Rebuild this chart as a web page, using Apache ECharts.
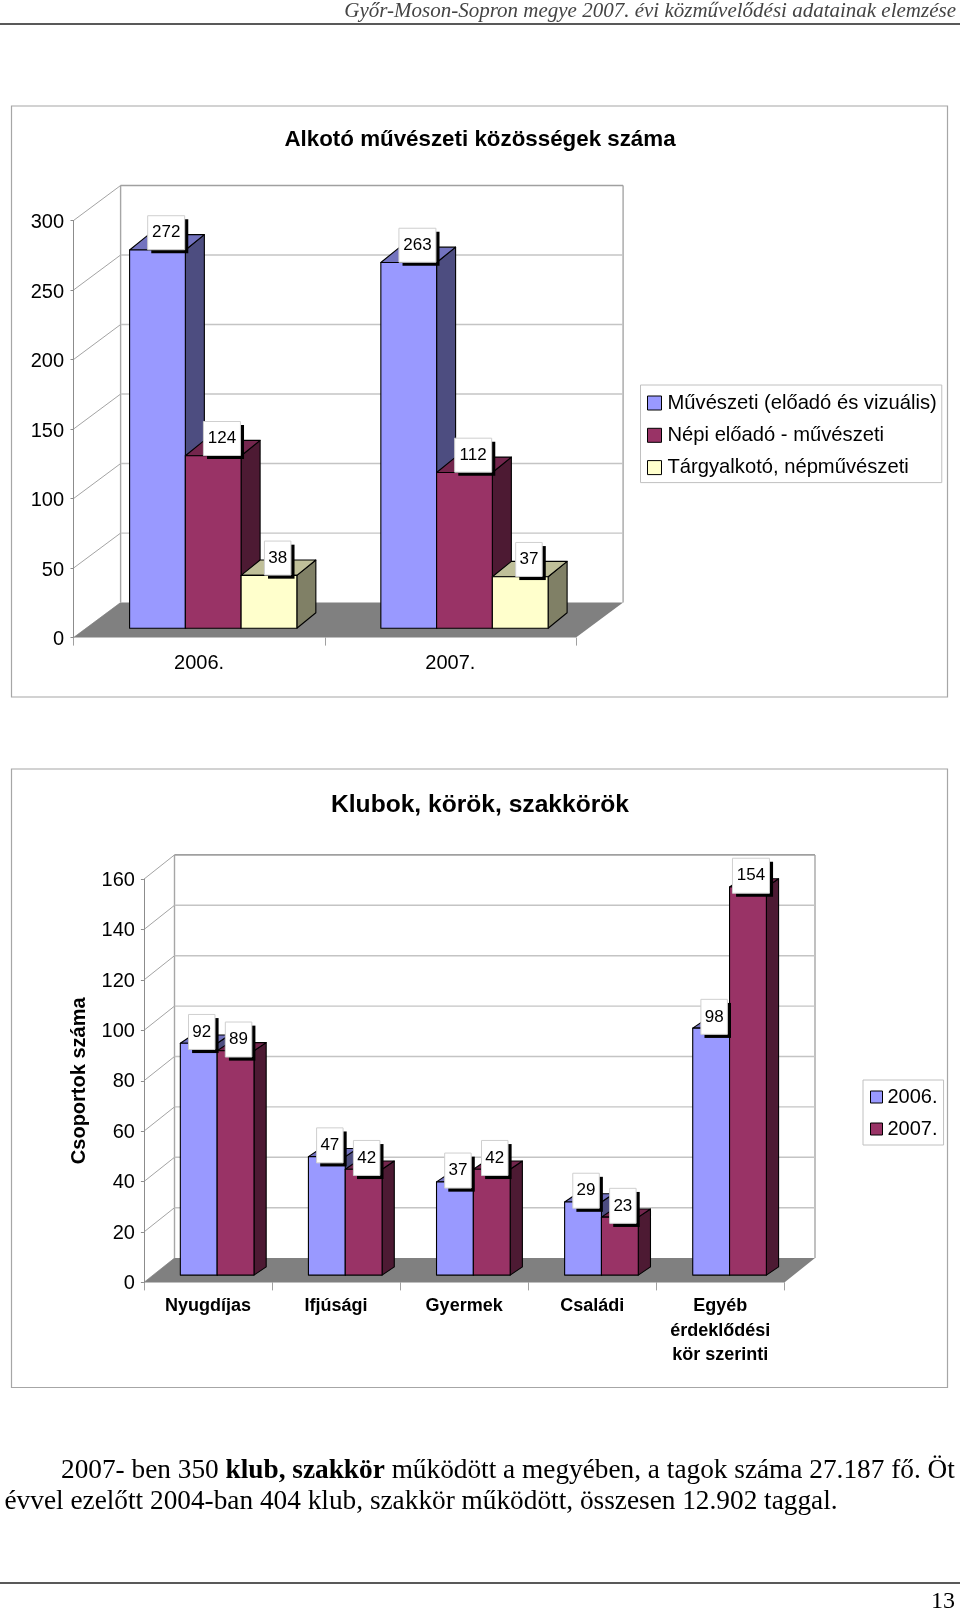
<!DOCTYPE html>
<html><head><meta charset="utf-8">
<style>html,body{margin:0;padding:0;background:#fff}#c{width:960px;height:1609px}</style>
<script src="https://cdn.jsdelivr.net/npm/echarts@6/dist/echarts.min.js"></script>
</head><body><div id="c"></div>
<script>
const categories1 = ['2006.', '2007.'];
const muveszeti = [272, 263];
const nepi = [124, 112];
const targyalkoto = [38, 37];
const ticks1 = [0, 50, 100, 150, 200, 250, 300];
const categories2 = ['Nyugdíjas', 'Ifjúsági', 'Gyermek', 'Családi', 'Egyéb\nérdeklődési\nkör szerinti'];
const klub2006 = [92, 47, 37, 29, 98];
const klub2007 = [89, 42, 42, 23, 154];
const ticks2 = [0, 20, 40, 60, 80, 100, 120, 140, 160];

const SANS = '"Liberation Sans", Arial, sans-serif';
const SERIF = '"Liberation Serif", "Times New Roman", serif';
const BLUE = {front:'#9999FF', top:'#7373BF', side:'#4D4D80'};
const RED = {front:'#993366', top:'#73264D', side:'#4D1A33'};
const YEL = {front:'#FFFFCC', top:'#BFBF99', side:'#808066'};

const geo1 = {wallX:47.1, wallY:35, barFrac:0.2219, offX:14.1, offY:9.4, depX:19, depY:15.4, n:3, lblX:8.7, lblY:-0.3, lblH:34, font:17};
const geo2 = {wallX:30.6, wallY:24.3, barFrac:0.2875, offX:9.2, offY:7.3, depX:12.2, depY:8.2, n:2, lblX:3, lblY:6.2, lblH:35, font:17};

function poly(points, fill, z2, stroke){
  return {type:'polygon', z2, shape:{points}, style:{fill, stroke:stroke||'#000', lineWidth:1.1, lineJoin:'round'}};
}
function line(x1,y1,x2,y2,color,w,z2){
  return {type:'line', z2:z2||0, shape:{x1,y1,x2,y2}, style:{stroke:color, lineWidth:w}};
}
function barRender(g, idx, pal){
  return function(params, api){
    const i = api.value(0), v = api.value(1);
    const base = api.coord([i,0]), top = api.coord([i,v]);
    const w = api.size([1,0])[0]*g.barFrac;
    const x0 = base[0]-g.n*w/2+idx*w+g.offX, x1 = x0+w;
    const yb = base[1]-g.offY, yt = top[1]-g.offY;
    const z = idx+1;
    const txt = String(v);
    const bw = txt.length>2 ? 37 : 26.5;
    const cx = (x0+x1)/2+g.lblX;
    const by = yt+g.lblY-g.lblH;
    return {type:'group', children:[
      poly([[x1,yb],[x1+g.depX,yb-g.depY],[x1+g.depX,yt-g.depY],[x1,yt]], pal.side, z),
      poly([[x0,yt],[x0+g.depX,yt-g.depY],[x1+g.depX,yt-g.depY],[x1,yt]], pal.top, z),
      poly([[x0,yb],[x1,yb],[x1,yt],[x0,yt]], pal.front, z),
      {type:'rect', z2:50+z, shape:{x:cx-bw/2+3.6,y:by+3.6,width:bw,height:g.lblH}, style:{fill:'#000'}},
      {type:'rect', z2:51+z, shape:{x:cx-bw/2,y:by,width:bw,height:g.lblH}, style:{fill:'#fff',stroke:'#cfcfcf',lineWidth:1}},
      {type:'text', z2:52+z, style:{x:cx,y:by+g.lblH/2,text:txt,font:g.font+'px '+SANS,fill:'#000',align:'center',verticalAlign:'middle'}}
    ]};
  };
}
function wallRender(g, maxTick){
  return function(params, api){
    const t = api.value(1);
    const c = params.coordSys;
    const y = api.coord([0,t])[1];
    const x0 = c.x, x1 = c.x+c.width;
    const kids = [];
    kids.push(line(x0,y,x0+g.wallX,y-g.wallY,'#8c8c8c',0.8));
    if(t===0){
      kids.push({type:'polygon', shape:{points:[[x0,y],[x1,y],[x1+g.wallX,y-g.wallY],[x0+g.wallX,y-g.wallY]]}, style:{fill:'#808080'}});
      const yTop = api.coord([0,maxTick])[1]-g.wallY;
      kids.push(line(x0+g.wallX,yTop,x0+g.wallX,y-g.wallY,'#a6a6a6',1.4));
      kids.push(line(x1+g.wallX,yTop,x1+g.wallX,y-g.wallY,'#a6a6a6',1.4));
    } else {
      kids.push(line(x0+g.wallX,y-g.wallY,x1+g.wallX,y-g.wallY,t===maxTick?'#a0a0a0':'#c4c4c4',t===maxTick?1.6:1.4));
    }
    return {type:'group', children:kids};
  };
}
function barSeries(name, values, g, idx, pal, gi){
  return {type:'custom', name, xAxisIndex:gi, yAxisIndex:gi, z:2, clip:false,
    itemStyle:{color:pal.front}, encode:{x:0,y:1},
    renderItem:barRender(g, idx, pal), data:values.map((v,i)=>[i,v])};
}
function wallSeries(ticks, g, gi){
  return {type:'custom', name:'wall'+gi, xAxisIndex:gi, yAxisIndex:gi, z:1, clip:false, silent:true, encode:{x:0,y:1},
    renderItem:wallRender(g, ticks[ticks.length-1]), data:ticks.map(t=>[0,t])};
}
const valueAxis = (gi,maxV,step,extra)=>Object.assign({type:'value', gridIndex:gi, min:0, max:maxV, interval:step,
  axisLine:{show:true,lineStyle:{color:'#8c8c8c',width:1}}, axisTick:{show:true,length:3,lineStyle:{color:'#8c8c8c'}},
  splitLine:{show:false}}, extra);
const chart = echarts.init(document.getElementById('c'), null, {renderer:'canvas'});
chart.setOption({
  animation:false, backgroundColor:'#fff',
  title:[
    {text:'Alkotó művészeti közösségek száma', left:480, top:128.5, padding:0, textAlign:'center', textStyle:{fontFamily:SANS,fontSize:22.35,fontWeight:'bold',color:'#000'}},
    {text:'Klubok, körök, szakkörök', left:480, top:792.5, padding:0, textAlign:'center', textStyle:{fontFamily:SANS,fontSize:24.6,fontWeight:'bold',color:'#000'}},
    {text:'Győr-Moson-Sopron megye 2007. évi közművelődési adatainak elemzése', right:4, top:0.5, padding:0, textStyle:{fontFamily:SERIF,fontSize:21,fontStyle:'italic',fontWeight:'normal',color:'#444'}},
    {text:'2007- ben 350 {b|klub, szakkör} működött a megyében, a tagok száma 27.187 fő. Öt', left:61, top:1457, padding:0, textStyle:{fontFamily:SERIF,fontSize:27.3,fontWeight:'normal',color:'#000',rich:{b:{fontFamily:SERIF,fontSize:27.3,fontWeight:'bold',color:'#000'}}}},
    {text:'évvel ezelőtt 2004-ban 404 klub, szakkör működött, összesen 12.902 taggal.', left:4.5, top:1488, padding:0, textStyle:{fontFamily:SERIF,fontSize:27.3,fontWeight:'normal',color:'#000'}},
    {text:'13', right:5, top:1590, padding:0, textStyle:{fontFamily:SERIF,fontSize:24,fontWeight:'normal',color:'#000'}}
  ],
  grid:[
    {left:73.5, top:220.5, width:502.5, height:417.1},
    {left:143.9, top:879.2, width:640.5, height:403.2}
  ],
  xAxis:[
    {type:'category', gridIndex:0, data:categories1, axisLine:{show:false}, axisTick:{show:true,length:8,lineStyle:{color:'#a0a0a0'}},
     axisLabel:{margin:14,fontFamily:SANS,fontSize:20,color:'#000',lineHeight:24,interval:0}},
    {type:'category', gridIndex:1, data:categories2, axisLine:{show:false}, axisTick:{show:true,length:8,lineStyle:{color:'#a0a0a0'}},
     axisLabel:{margin:11.5,fontFamily:SANS,fontSize:18,fontWeight:'bold',color:'#000',lineHeight:24.5,interval:0}}
  ],
  yAxis:[
    valueAxis(0,300,50,{axisLabel:{margin:9.5,formatter:'{a|{value}}',rich:{a:{padding:[4,0,0,0],fontFamily:SANS,fontSize:20,color:'#000'}}}}),
    valueAxis(1,160,20,{axisLabel:{margin:9,formatter:'{a|{value}}',rich:{a:{padding:[2,0,0,0],fontFamily:SANS,fontSize:20,color:'#000'}}},
      name:'Csoportok száma', nameLocation:'middle', nameRotate:90, nameGap:54,
      nameTextStyle:{fontFamily:SANS,fontSize:20,fontWeight:'bold',color:'#000'}})
  ],
  legend:[
    {show:true, orient:'vertical', left:640.5, top:385, padding:[8,5,5,6.5], itemGap:12.3, itemWidth:14, itemHeight:14, selectedMode:false,
     borderColor:'#c0c0c0', borderWidth:1, backgroundColor:'#fff', icon:'rect', itemStyle:{borderColor:'#000',borderWidth:1},
     textStyle:{fontFamily:SANS,fontSize:20.2,color:'#000',padding:[0,0,0,1]}, data:['Művészeti (előadó és vizuális)','Népi előadó - művészeti','Tárgyalkotó, népművészeti']},
    {show:true, orient:'vertical', left:863, top:1080, padding:[7,6,6,7], itemGap:12, itemWidth:12, itemHeight:12, selectedMode:false,
     borderColor:'#c0c0c0', borderWidth:1, backgroundColor:'#fff', icon:'rect', itemStyle:{borderColor:'#000',borderWidth:1},
     textStyle:{fontFamily:SANS,fontSize:20,color:'#000'}, data:['2006.','2007.']}
  ],
  graphic:[
    {type:'rect', z:-5, shape:{x:11.5,y:106,width:936,height:591}, style:{fill:'none',stroke:'#a6a6a6',lineWidth:1.2}},
    {type:'rect', z:-5, shape:{x:11.5,y:769,width:936,height:618.5}, style:{fill:'none',stroke:'#a6a6a6',lineWidth:1.2}},
    {type:'line', z:-5, shape:{x1:0,y1:24,x2:960,y2:24}, style:{stroke:'#222',lineWidth:1.3}},
    {type:'line', z:-5, shape:{x1:0,y1:1583,x2:960,y2:1583}, style:{stroke:'#222',lineWidth:1.3}}
  ],
  series:[
    wallSeries(ticks1, geo1, 0),
    barSeries('Művészeti (előadó és vizuális)', muveszeti, geo1, 0, BLUE, 0),
    barSeries('Népi előadó - művészeti', nepi, geo1, 1, RED, 0),
    barSeries('Tárgyalkotó, népművészeti', targyalkoto, geo1, 2, YEL, 0),
    wallSeries(ticks2, geo2, 1),
    barSeries('2006.', klub2006, geo2, 0, BLUE, 1),
    barSeries('2007.', klub2007, geo2, 1, RED, 1)
  ]
});
</script></body></html>
